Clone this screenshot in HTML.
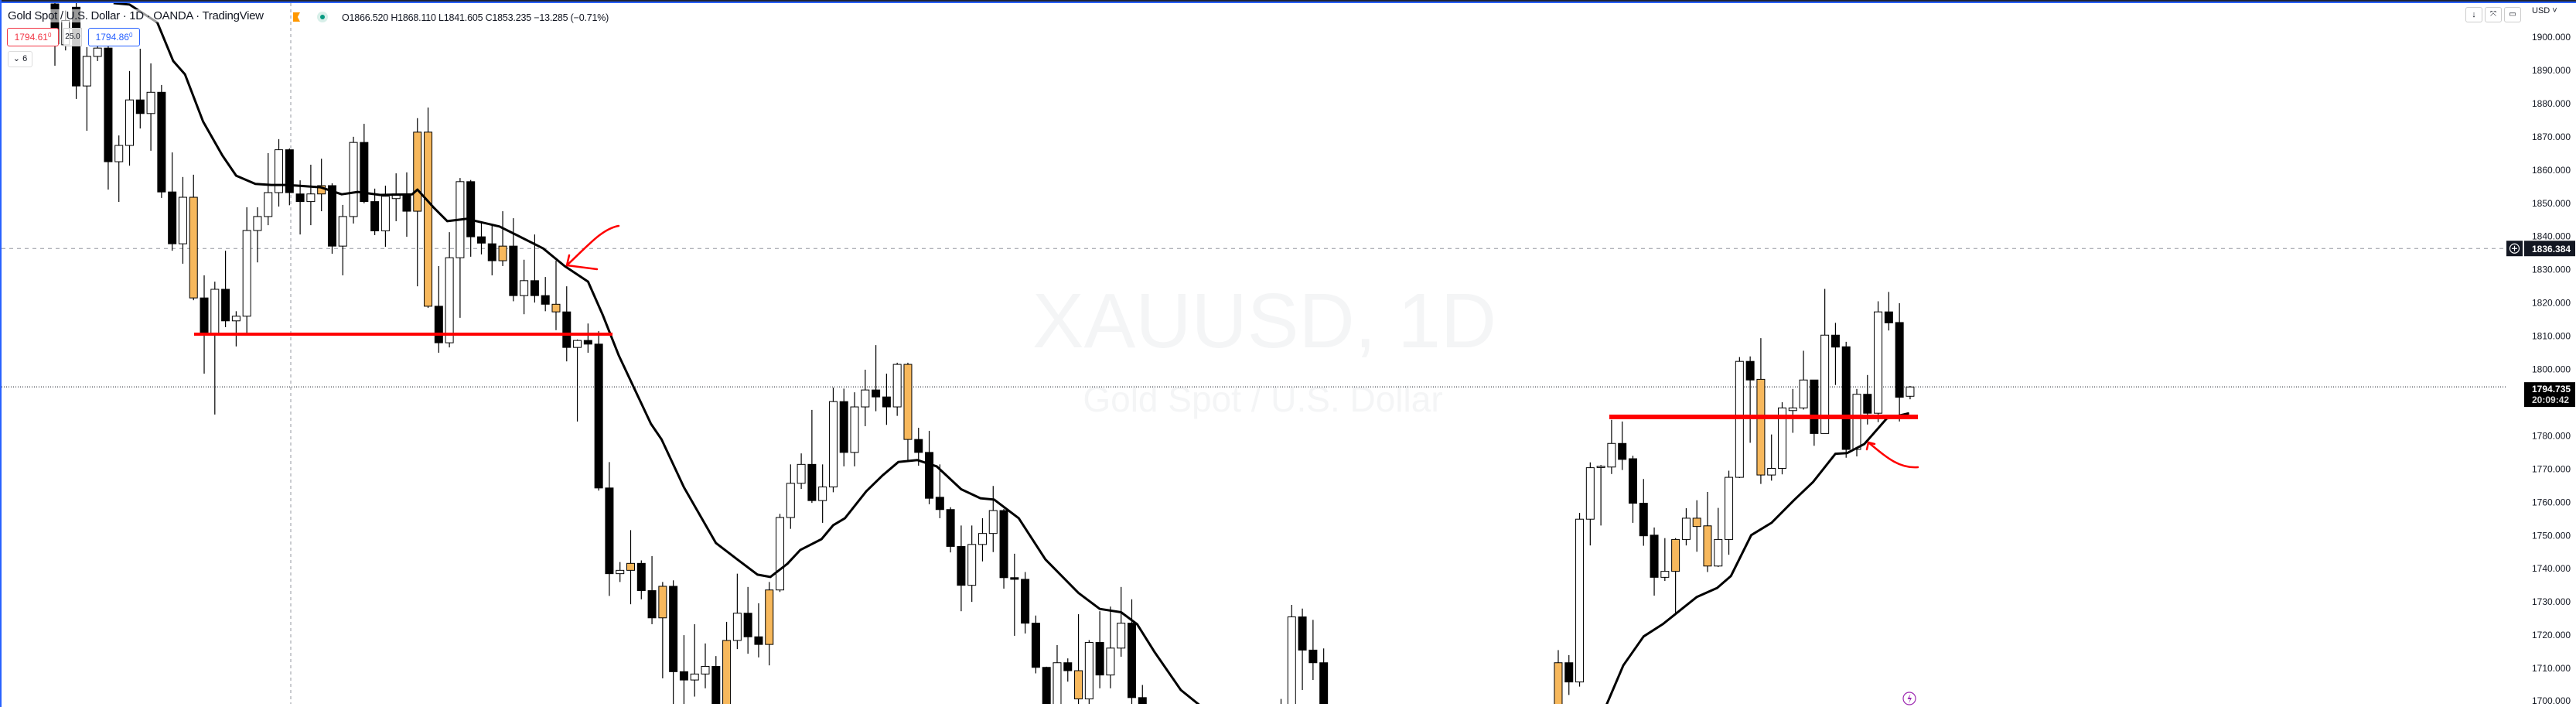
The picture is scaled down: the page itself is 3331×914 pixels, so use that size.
<!DOCTYPE html>
<html><head><meta charset="utf-8">
<style>
html{margin:0;padding:0;width:3331px;height:914px;overflow:hidden;}
body{margin:0;padding:0;background:#fff;width:3331px;height:914px;overflow:hidden;position:relative;font-family:"Liberation Sans",sans-serif;}
#chart{position:absolute;left:0;top:0;display:block;}
.lg{position:absolute;font-family:"Liberation Sans",sans-serif;color:#131722;white-space:nowrap;}
</style></head>
<body>
<svg id="chart" width="3331" height="914" xmlns="http://www.w3.org/2000/svg">
  <defs><clipPath id="plotclip"><rect x="2" y="4" width="3238" height="906"/></clipPath></defs>
  <rect x="0" y="0" width="3331" height="914" fill="#ffffff"/>
  <g id="watermark">
    <text x="1635" y="449" font-size="100" fill="#f4f5f6" text-anchor="middle" font-family="Liberation Sans, sans-serif">XAUUSD, 1D</text>
    <text x="1633" y="532" font-size="46" fill="#f4f5f6" text-anchor="middle" font-family="Liberation Sans, sans-serif">Gold Spot / U.S. Dollar</text>
  </g>
  <g id="grid" clip-path="url(#plotclip)"></g>
  <g id="candles" clip-path="url(#plotclip)"></g>
  <g id="ma" clip-path="url(#plotclip)"></g>
  <g id="drawings">
    <line x1="251" y1="432" x2="792" y2="432" stroke="#ff0000" stroke-width="4"/>
    <line x1="2081" y1="539" x2="2480" y2="539" stroke="#ff0000" stroke-width="6"/>
    <path d="M800,292 C778,296 760,318 733,343 M733,343 L772,348 M733,343 L736,330" fill="none" stroke="#ff0000" stroke-width="2.5" stroke-linecap="round"/>
    <path d="M2480,604 C2455,606 2438,590 2416,572 M2416,572 L2414,581 M2416,572 L2424,574" fill="none" stroke="#ff0000" stroke-width="2.5" stroke-linecap="round"/>
  </g>
  <g id="axis"></g>
  <g id="overlays"></g>
</svg>

<div class="lg" style="left:0;top:0;width:3331px;height:2px;background:#1e2433;"></div>
<div class="lg" style="left:0;top:2px;width:3331px;height:2px;background:#2962ff;"></div>
<div class="lg" style="left:0;top:0;width:2px;height:914px;background:#2962ff;"></div>

<div class="lg" style="left:10px;top:12px;font-size:15px;letter-spacing:-0.3px;background:rgba(255,255,255,0.6);">Gold Spot / U.S. Dollar · 1D · OANDA · TradingView</div>
<div class="lg" style="left:379px;top:16px;width:9px;height:12px;background:#ff9800;clip-path:polygon(0 0,100% 0,65% 50%,100% 100%,0 100%);"></div>
<div class="lg" style="left:410px;top:15px;width:14px;height:14px;border-radius:50%;background:#d8efe9;"></div>
<div class="lg" style="left:414px;top:19px;width:6px;height:6px;border-radius:50%;background:#089981;"></div>
<div class="lg" style="left:442px;top:16px;font-size:12.5px;letter-spacing:-0.2px;">O1866.520 H1868.110 L1841.605 C1853.235 −13.285 (−0.71%)</div>

<div class="lg" style="left:9px;top:36px;width:65px;height:22px;border:1px solid #f23645;border-radius:3px;color:#f23645;font-size:12px;line-height:22px;text-align:center;background:#fff;">1794.61<span style="font-size:8px;vertical-align:4px;line-height:0">0</span></div>
<div class="lg" style="left:82px;top:36px;width:22px;height:22px;border:1px solid #ccc;font-size:10px;line-height:22px;text-align:center;background:rgba(255,255,255,0.8);">25.0</div>
<div class="lg" style="left:114px;top:36px;width:65px;height:22px;border:1px solid #2962ff;border-radius:3px;color:#2962ff;font-size:12px;line-height:22px;text-align:center;background:#fff;">1794.86<span style="font-size:8px;vertical-align:4px;line-height:0">0</span></div>
<div class="lg" style="left:10px;top:66px;width:30px;height:19px;border:1px solid #ddd;border-radius:3px;font-size:11px;line-height:19px;text-align:center;background:#fff;">⌄ 6</div>

<div class="lg" style="left:3188px;top:9px;width:20px;height:18px;border:1px solid #ccc;border-radius:3px;font-size:11px;line-height:18px;text-align:center;">↓</div>
<div class="lg" style="left:3213px;top:9px;width:20px;height:18px;border:1px solid #ccc;border-radius:3px;font-size:10px;line-height:18px;text-align:center;">⤧</div>
<div class="lg" style="left:3238px;top:9px;width:20px;height:18px;border:1px solid #ccc;border-radius:3px;font-size:10px;line-height:18px;text-align:center;">▭</div>
<div class="lg" style="left:3274px;top:8px;font-size:11px;">USD ˅</div>

<script>
// ---- data ----
const opens = [1910,1897.7,1909,1885.3,1894.2,1896.7,1862.5,1867.4,1881.1,1877,
1883.4,1853.4,1837.8,1851.8,1821.5,1810.8,1824.1,1814.6,1816,1841.8,
1846,1853.2,1866.1,1852.8,1850.5,1855.3,1855.3,1837.1,1846,1868.3,
1850.5,1841.7,1851.4,1852.8,1871.4,1871.4,1819,1808,1833.6,1856.5,
1839.9,1837.8,1837.1,1837.1,1822.2,1826.7,1822.2,1819.6,1817.3,1806.6,
1808.7,1807.6,1764.3,1738.5,1741.6,1741.6,1733.4,1734.7,1734.7,1709,
1706.5,1708.3,1710.6,1718.4,1718.4,1726.6,1719.5,1733.6,1733.6,1755.4,
1765.7,1771.4,1760.5,1764.6,1790.3,1775,1788.7,1793.8,1791.7,1788.7,
1801.5,1778.9,1775,1761.5,1757.8,1746.7,1735,1747.3,1750.6,1757.5,
1737.3,1736.8,1723.6,1710.3,1696,1711.7,1709.3,1700.8,1717.8,1708,
1716.1,1723.6,1701.2,1694,1684,1689,1681,1690,1684,1688,
1680,1686,1692,1688,1690,1692,1698.8,1725.5,1715.5,1711.7,
1694,1684,1691,1682,1688,1679,1687,1683,1690,1685,
1691,1683,1689,1684,1692,1687,1692,1688,1693,1689,
1696,1711.7,1711.7,1705.9,1754.9,1770.6,1770.6,1777.7,1773.1,1759.7,
1750.1,1737.4,1748.8,1748.8,1755.2,1752.9,1740.8,1748.8,1767.5,1802.4,
1797,1768.2,1770.2,1787.6,1788.4,1796.8,1780.7,1810.3,1806.8,1775.9,
1792.5,1786.8,1817.3,1814.1,1791.9];
const highs = [1912,1908,1912,1897,1898.4,1898,1870.4,1889.8,1896.5,1892.1,
1885.6,1865.3,1857.9,1858.6,1828.3,1826.4,1835.7,1817.5,1848.8,1848.8,
1865.1,1869.3,1866.5,1856.9,1861.6,1863.4,1856,1849.5,1870,1873.9,
1854.4,1855.3,1859,1859.3,1875.6,1878.8,1831.1,1841.3,1857.6,1857,
1844.6,1843.4,1847.6,1845.5,1833,1840.6,1827.8,1832.7,1825,1809,
1813.8,1811.5,1772.1,1742,1751.6,1742.5,1743.8,1736,1736.5,1720,
1723.3,1717.5,1713.7,1724,1738.5,1734.5,1729.6,1736,1756.5,1771.4,
1774.7,1787.8,1771.4,1794.5,1794.2,1793.1,1799.9,1807.3,1798.7,1802,
1802,1782.4,1781.5,1771.4,1758.5,1753,1753,1755.2,1764.9,1758,
1744.5,1739,1725.9,1710.5,1717,1713,1726.3,1718.5,1727.2,1728.6,
1734.5,1730.8,1705,1696,1694,1693,1692,1694,1695,1693,
1691,1694,1696,1696,1697.5,1700.8,1729.1,1728,1724.6,1716,
1698.5,1694,1695,1693,1692,1690,1691,1693,1694,1695,
1694,1694,1693,1695,1696,1696,1695,1697,1696,1697,
1697.5,1715.5,1714,1756.8,1772,1771.2,1784.8,1784.3,1774,1767,
1752.4,1749.2,1749.2,1758.2,1760.6,1763.1,1758.3,1769.5,1803.7,1803.9,
1809.4,1780.4,1790.1,1794.1,1805.6,1796.8,1824.2,1814,1808.3,1794.1,
1798.3,1820.5,1823.3,1819.9,1795];
const lows = [1891.4,1896,1881.4,1871.8,1892.8,1854.1,1850.4,1861.3,1872.5,1865.8,
1851.6,1835.7,1831.8,1820.8,1798.7,1786.4,1812.7,1806.9,1810.8,1832.2,
1843.4,1849,1849.4,1840.6,1843.4,1847.6,1834.8,1828.3,1843.9,1850,
1840.4,1836.9,1844.6,1839.9,1825,1818.5,1805,1806.6,1815.5,1833.9,
1834.6,1828.3,1831.1,1820.5,1816.6,1820.1,1817.5,1811.8,1802.4,1784.3,
1805,1763.5,1731.8,1736,1729.3,1730.8,1723.3,1707,1694,1694,
1701.5,1704,1694,1694,1715.8,1714.4,1713.3,1710.9,1733,1752,
1764,1759.8,1753.8,1763,1770.8,1770.8,1782.9,1787.4,1783.3,1786,
1772.6,1771,1759.4,1755.2,1744.9,1727.2,1730,1742.2,1745,1734,
1719.8,1720.5,1708.5,1690,1690,1706,1698.6,1695,1704,1704,
1713.5,1696,1688,1682,1680,1678,1677,1679,1680,1676,
1677,1683,1684,1685,1687,1690,1697,1703.5,1706.5,1690,
1684,1680,1679,1678,1676,1675,1676,1680,1681,1682,
1680,1679,1678,1681,1683,1684,1683,1685,1684,1686,
1687,1694,1702,1704.5,1747,1753,1768.5,1769.7,1753.8,1746.9,
1731.9,1736.3,1726.4,1747,1745.1,1739,1740.5,1744.2,1767.3,1777.9,
1765.5,1766.5,1768.4,1780.9,1787.9,1777,1780.7,1795.3,1773.4,1773.8,
1783.4,1784.1,1811.7,1784.3,1791];
const closes = [1898,1905,1885.3,1894.2,1896.7,1862.5,1867.4,1881.1,1877,1883.4,
1853.4,1837.8,1851.8,1821.5,1810.8,1824.1,1814.6,1816,1841.8,1846,
1853.2,1866.1,1853.2,1850.5,1852.8,1852.8,1837.1,1846,1868.3,1850.5,
1841.7,1852.1,1852.8,1847.6,1847.6,1819,1808,1833.6,1856.5,1839.9,
1838,1832.7,1832.7,1822.2,1826.7,1822.2,1819.6,1817.3,1806.6,1808.7,
1807.6,1764.3,1738.5,1739.5,1739.5,1733.4,1725.2,1725.2,1709,1706.5,
1708.3,1710.6,1697,1697,1726.6,1719.5,1717.2,1717.2,1755.4,1765.7,
1771.4,1760.5,1764.6,1790.3,1775,1788.7,1793.8,1791.7,1788.7,1801.5,
1778.9,1775,1761.2,1757.8,1746.7,1735,1747.3,1750.6,1757.5,1737.3,
1736.8,1723.6,1710.3,1696,1711.7,1709.3,1700.8,1717.8,1708,1716.1,
1723.6,1701.2,1692,1686,1690,1682,1688,1683,1691,1680,
1687,1690,1687,1694,1696,1698.8,1725.5,1715.5,1711.7,1694,
1688,1690,1683,1689,1680,1686,1680,1689,1684,1692,
1684,1690,1682,1691,1686,1693,1686,1694,1687,1695,
1690,1696,1705.9,1754.9,1770.4,1770.8,1777.7,1772.9,1759.7,1749.9,
1737.4,1739.2,1739.2,1755.2,1752.7,1740.8,1748.8,1767.5,1802.4,1796.8,
1768.2,1770.2,1788.4,1788.4,1796.8,1780.7,1810.3,1806.7,1775.9,1792.5,
1786.8,1817.3,1814,1791.6,1794.7];
const highlighted = [13,25,34,35,42,47,54,57,63,67,80,96,141,152,154,155,160];
const maIndex = [5.5,7.0,9.6,11.1,12.2,13.9,15.7,17.0,18.8,20.3,21.8,24.9,26.9,28.4,30.5,33.5,34.0,35.5,36.8,38.6,41.7,43.2,45.8,47.8,50.0,51.4,52.9,55.9,56.9,59.0,62.0,64.0,65.9,67.1,68.7,69.9,71.9,73.0,74.1,76.1,77.6,79.1,80.9,82.7,85.0,86.8,88.1,90.4,92.9,96.0,98.0,100.0,101.5,103.1,105.6,107.4,112,125,138,145.5,147.1,149.0,150.8,154.0,155.9,157.2,159.1,161.0,163.1,164.9,167.0,168.1,169.7,171.8,173.9];
const maValue = [1916,1909.8,1904.4,1892.8,1888.8,1874.6,1864.4,1858.3,1855.8,1855.5,1855.5,1854.8,1852.7,1853.4,1852.5,1852.7,1854.1,1848.8,1844.6,1845.3,1843,1840.6,1836.4,1831.1,1826.4,1816.2,1804.1,1783.6,1778.9,1764.5,1747.7,1742.8,1738.2,1737.5,1741.5,1745.6,1748.9,1753.1,1755.2,1763.3,1768,1772.1,1772.7,1770.8,1763.9,1761.2,1760.8,1755.2,1742.8,1732.7,1727.9,1726.9,1723.3,1715.1,1703.5,1698.4,1690,1688,1690,1698.4,1710.9,1719.6,1723.3,1731.5,1734.2,1737.8,1750.1,1753.8,1760.6,1766.1,1774.6,1774.8,1777.5,1785.2,1786.8];
const tickValues = [1900,1890,1880,1870,1860,1850,1840,1830,1820,1810,1800,1790,1780,1770,1760,1750,1740,1730,1720,1710,1700];
const lastPrice = 1794.735;
const linePrice = 1836.384;

// ---- scales ----
const NS = 'http://www.w3.org/2000/svg';
function yS(p){ return 48 + (1900 - p) * 4.295; }
function yC(p){ return Math.min(913, Math.max(4, yS(p))); }
function yM(p){ return Math.min(912, Math.max(4, yS(p))); }
function xS(i){ return 71 + i * 13.787; }
function mk(tag, attrs, parent){ const e=document.createElementNS(NS,tag); for(const k in attrs) e.setAttribute(k, attrs[k]); parent.appendChild(e); return e; }

const grid = document.getElementById('grid');
const vline = mk('line',{x1:376,y1:4,x2:376,y2:913,stroke:'#9598a1','stroke-width':1,'stroke-dasharray':'4 4'},grid);


const hl = mk('line',{x1:2,y1:yS(linePrice),x2:3240,y2:yS(linePrice),stroke:'#9598a1','stroke-width':1,'stroke-dasharray':'5 5'},grid);


const cl = mk('line',{x1:2,y1:yS(lastPrice),x2:3240,y2:yS(lastPrice),stroke:'#131722','stroke-width':1,'stroke-dasharray':'1 2'},grid);



// ---- candles ----
const cg = document.getElementById('candles');
for(let i=0;i<opens.length;i++){
  const x = xS(i);
  const o=opens[i], c=closes[i];
  const orange = highlighted.indexOf(i) >= 0;
  const fill = orange ? '#f7b85c' : (c >= o ? '#ffffff' : '#000000');
  const g = mk('g',{},cg);
  
  
  const wt = yC(highs[i]), wb = yC(lows[i]);
  if (wb - wt > 0) mk('line',{x1:x,y1:wt,x2:x,y2:wb,stroke:'#000','stroke-width':1.2},g);
  const top = yC(Math.max(o,c)), bot = yC(Math.min(o,c));
  if (top < 912) mk('rect',{x:x-5,y:top,width:10,height:Math.max(1.5,bot-top),fill:fill,stroke:'#000','stroke-width':1},g);
}

// ---- moving average ----
const mg = document.getElementById('ma');
let d='';
for(let k=0;k<maIndex.length;k++){ d += (k?'L':'M') + xS(maIndex[k]).toFixed(1) + ',' + yM(maValue[k]).toFixed(1) + ' '; }
const mp = mk('path',{d:d,fill:'none',stroke:'#000','stroke-width':3,'stroke-linejoin':'round'},mg);



// ---- axis ----
const ag = document.getElementById('axis');
for(const t of tickValues){
  const tx = mk('text',{x:3274,y:Math.min(910, yS(t)+4),'font-size':12,fill:'#131722','font-family':'Liberation Sans, sans-serif'},ag);
  tx.textContent = t.toFixed(3);
  
  
}
const og = document.getElementById('overlays');
const yl = yS(linePrice);
const pb = mk('rect',{x:3241,y:yl-10,width:21,height:20,fill:'#131722'},og);


mk('circle',{cx:3251.5,cy:yl,r:6,fill:'none',stroke:'#fff','stroke-width':1.2},og);
mk('path',{d:`M3248,${yl} h7 M3251.5,${yl-3.5} v7`,stroke:'#fff','stroke-width':1.2},og);
const lb = mk('rect',{x:3264,y:yl-10,width:66,height:20,fill:'#131722'},og);


const lt = mk('text',{x:3274,y:yl+5,'font-size':12,'font-weight':'bold',fill:'#fff','font-family':'Liberation Sans, sans-serif'},og);
lt.textContent = linePrice.toFixed(3);
const yc = yS(lastPrice);
const cb = mk('rect',{x:3264,y:yc-6,width:66,height:32,fill:'#000'},og);


const ct = mk('text',{x:3274,y:yc+7,'font-size':12,'font-weight':'bold',fill:'#fff','font-family':'Liberation Sans, sans-serif'},og);
ct.textContent = lastPrice.toFixed(3);
const ct2 = mk('text',{x:3274,y:yc+21,'font-size':12,'font-weight':'bold',fill:'#ddd','font-family':'Liberation Sans, sans-serif'},og);
ct2.textContent = '20:09:42';
const ic = mk('circle',{cx:2469,cy:903,r:8,fill:'#fff',stroke:'#9c27b0','stroke-width':1.2},og);


mk('path',{d:'M2470.5,897 L2466.5,904 L2470,904 L2468,910 L2472,902 L2469,902 Z',fill:'#9c27b0'},og);
</script>
</body></html>
